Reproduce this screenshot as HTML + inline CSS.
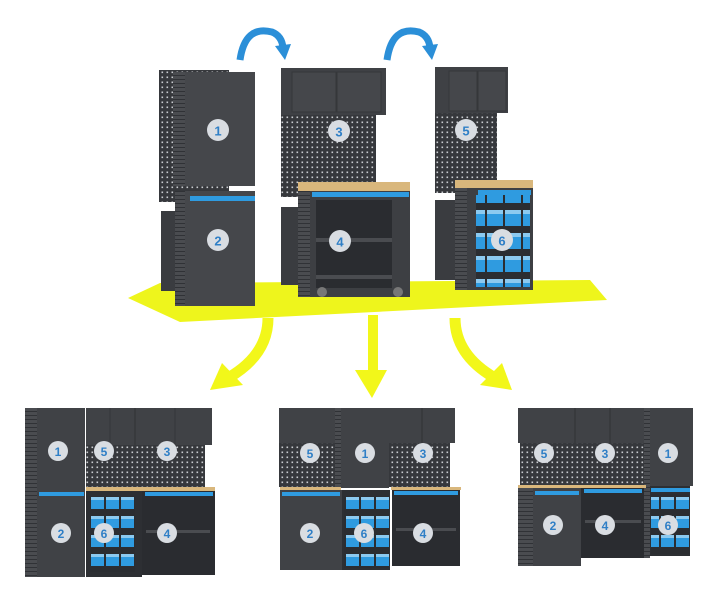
<!DOCTYPE html>
<html><head><meta charset="utf-8"><style>
html,body{margin:0;padding:0;background:#fff;}
svg{display:block}
text{font-family:"Liberation Sans",sans-serif;font-weight:bold;fill:#2f7fc6;text-anchor:middle;dominant-baseline:central}
</style></head><body>
<svg width="706" height="603" viewBox="0 0 706 603" xmlns="http://www.w3.org/2000/svg">
<defs>
<pattern id="peg" width="5" height="5" patternUnits="userSpaceOnUse">
<rect width="5" height="5" fill="#36383c"/><rect x="1.5" y="1.5" width="1.6" height="1.6" fill="#c9ccd0"/>
</pattern>
<pattern id="slat" width="6" height="4" patternUnits="userSpaceOnUse">
<rect width="6" height="4" fill="#4a4c50"/><rect x="0" y="3" width="6" height="1" fill="#303236"/>
</pattern>
<pattern id="bins" width="18" height="23" patternUnits="userSpaceOnUse">
<rect width="18" height="23" fill="#2b2d31"/><rect x="1" y="3" width="16" height="16" fill="#2f9be0"/><rect x="1" y="3" width="16" height="4" fill="#8ccaf0"/>
</pattern>
<pattern id="binsS" width="15" height="19" patternUnits="userSpaceOnUse">
<rect width="15" height="19" fill="#2b2d31"/><rect x="1" y="3" width="13" height="12" fill="#2f9be0"/><rect x="1" y="3" width="13" height="3" fill="#8ccaf0"/>
</pattern>
</defs>

<!-- blue arrows -->
<path d="M240 60 Q245 25 272 32 Q282 36 283 48" fill="none" stroke="#2b8fd8" stroke-width="7"/>
<polygon points="275,46 291,44 285,60" fill="#2b8fd8"/>
<path d="M387 60 Q392 25 419 32 Q429 36 430 48" fill="none" stroke="#2b8fd8" stroke-width="7"/>
<polygon points="422,46 438,44 432,60" fill="#2b8fd8"/>

<!-- floor -->
<polygon points="160,283 590,280 607,300 180,322 128,298" fill="#eef51c"/>

<!-- yellow arrows -->
<path d="M268 318 Q268 355 228 378" fill="none" stroke="#f2f71a" stroke-width="11"/>
<polygon points="210,390 222,363 243,385" fill="#f2f71a"/>
<rect x="368" y="315" width="10" height="60" fill="#f2f71a"/>
<polygon points="355,370 387,370 372,398" fill="#f2f71a"/>
<path d="M455 318 Q455 355 495 378" fill="none" stroke="#f2f71a" stroke-width="11"/>
<polygon points="512,390 502,363 480,385" fill="#f2f71a"/>

<!-- TOP LEFT -->
<rect x="159" y="70" width="70" height="132" fill="url(#peg)"/>
<rect x="161" y="211" width="14" height="80" fill="#3a3c40"/>
<rect x="173" y="72" width="82" height="114" fill="#45474b"/>
<rect x="173" y="72" width="12" height="114" fill="url(#slat)"/>
<rect x="175" y="191" width="80" height="115" fill="#45474b"/>
<rect x="175" y="191" width="10" height="115" fill="url(#slat)"/>
<rect x="190" y="196" width="65" height="5" fill="#2f9be0"/>
<circle cx="218" cy="130" r="11" fill="#d9dde2"/><text x="218" y="131" font-size="13">1</text>
<circle cx="218" cy="240" r="11" fill="#d9dde2"/><text x="218" y="241" font-size="13">2</text>

<!-- TOP MIDDLE -->
<rect x="281" y="68" width="105" height="47" fill="#3f4145"/>
<rect x="292" y="72" width="44" height="40" fill="#45474b" stroke="#35373a"/>
<rect x="337" y="72" width="44" height="40" fill="#45474b" stroke="#35373a"/>
<rect x="281" y="115" width="95" height="82" fill="url(#peg)"/>
<rect x="281" y="207" width="19" height="78" fill="#3a3c40"/>
<rect x="298" y="182" width="112" height="9" fill="#d9b77c"/>
<rect x="298" y="191" width="112" height="106" fill="#3d3f43"/>
<rect x="298" y="191" width="12" height="106" fill="url(#slat)"/>
<rect x="312" y="192" width="97" height="5" fill="#2f9be0"/>
<rect x="316" y="200" width="76" height="88" fill="#2a2c30"/>
<rect x="316" y="238" width="76" height="4" fill="#4a4c50"/>
<rect x="316" y="275" width="76" height="4" fill="#4a4c50"/>
<circle cx="322" cy="292" r="5" fill="#777"/><circle cx="398" cy="292" r="5" fill="#777"/>
<circle cx="339" cy="131" r="11" fill="#d9dde2"/><text x="339" y="132" font-size="13">3</text>
<circle cx="340" cy="241" r="11" fill="#d9dde2"/><text x="340" y="242" font-size="13">4</text>

<!-- TOP RIGHT -->
<rect x="435" y="67" width="73" height="46" fill="#3f4145"/>
<rect x="449" y="71" width="28" height="40" fill="#45474b" stroke="#35373a"/>
<rect x="478" y="71" width="28" height="40" fill="#45474b" stroke="#35373a"/>
<rect x="435" y="113" width="62" height="80" fill="url(#peg)"/>
<rect x="435" y="200" width="20" height="80" fill="#3a3c40"/>
<rect x="455" y="180" width="78" height="8" fill="#d9b77c"/>
<rect x="455" y="188" width="78" height="102" fill="#3d3f43"/>
<rect x="455" y="188" width="12" height="102" fill="url(#slat)"/>
<rect x="478" y="190" width="53" height="5" fill="#2f9be0"/>
<rect x="476" y="195" width="54" height="92" fill="url(#bins)"/>
<circle cx="466" cy="130" r="11" fill="#d9dde2"/><text x="466" y="131" font-size="13">5</text>
<circle cx="502" cy="240" r="11" fill="#d9dde2"/><text x="502" y="241" font-size="13">6</text>

<!-- BOTTOM A -->
<rect x="25" y="408" width="12" height="169" fill="url(#slat)"/>
<rect x="37" y="408" width="48" height="80" fill="#404246"/>
<rect x="86" y="408" width="126" height="37" fill="#404246"/>
<line x1="135" y1="408" x2="135" y2="445" stroke="#2f3134"/><line x1="110" y1="408" x2="110" y2="445" stroke="#35373a"/><line x1="175" y1="408" x2="175" y2="445" stroke="#35373a"/>
<rect x="86" y="445" width="119" height="42" fill="url(#peg)"/>
<rect x="86" y="487" width="129" height="4" fill="#d9b77c"/>
<rect x="37" y="488" width="48" height="89" fill="#404246"/>
<rect x="39" y="492" width="45" height="4" fill="#2f9be0"/>
<rect x="86" y="491" width="56" height="86" fill="#2d2f33"/>
<rect x="90" y="496" width="45" height="76" fill="url(#binsS)"/>
<rect x="142" y="491" width="73" height="84" fill="#2a2c30"/>
<rect x="145" y="492" width="68" height="4" fill="#2f9be0"/>
<rect x="146" y="530" width="64" height="3" fill="#4a4c50"/>
<circle cx="58" cy="451" r="10" fill="#d9dde2"/><text x="58" y="452" font-size="12">1</text>
<circle cx="104" cy="451" r="10" fill="#d9dde2"/><text x="104" y="452" font-size="12">5</text>
<circle cx="167" cy="451" r="10" fill="#d9dde2"/><text x="167" y="452" font-size="12">3</text>
<circle cx="61" cy="533" r="10" fill="#d9dde2"/><text x="61" y="534" font-size="12">2</text>
<circle cx="104" cy="533" r="10" fill="#d9dde2"/><text x="104" y="534" font-size="12">6</text>
<circle cx="167" cy="533" r="10" fill="#d9dde2"/><text x="167" y="534" font-size="12">4</text>

<!-- BOTTOM B -->
<rect x="279" y="408" width="56" height="35" fill="#404246"/>
<rect x="279" y="443" width="56" height="44" fill="url(#peg)"/>
<rect x="335" y="408" width="6" height="160" fill="url(#slat)"/>
<rect x="341" y="408" width="48" height="80" fill="#404246"/>
<rect x="389" y="408" width="66" height="35" fill="#404246"/>
<line x1="422" y1="408" x2="422" y2="443" stroke="#2f3134"/>
<rect x="389" y="443" width="61" height="44" fill="url(#peg)"/>
<rect x="280" y="487" width="61" height="3" fill="#d9b77c"/>
<rect x="391" y="487" width="70" height="3" fill="#d9b77c"/>
<rect x="280" y="490" width="62" height="80" fill="#404246"/>
<rect x="282" y="492" width="58" height="4" fill="#2f9be0"/>
<rect x="342" y="490" width="48" height="80" fill="#2d2f33"/>
<rect x="344" y="496" width="45" height="72" fill="url(#binsS)"/>
<rect x="392" y="490" width="68" height="76" fill="#2a2c30"/>
<rect x="394" y="491" width="64" height="4" fill="#2f9be0"/>
<rect x="396" y="528" width="60" height="3" fill="#4a4c50"/>
<circle cx="310" cy="453" r="10" fill="#d9dde2"/><text x="310" y="454" font-size="12">5</text>
<circle cx="365" cy="453" r="10" fill="#d9dde2"/><text x="365" y="454" font-size="12">1</text>
<circle cx="423" cy="453" r="10" fill="#d9dde2"/><text x="423" y="454" font-size="12">3</text>
<circle cx="310" cy="533" r="10" fill="#d9dde2"/><text x="310" y="534" font-size="12">2</text>
<circle cx="364" cy="533" r="10" fill="#d9dde2"/><text x="364" y="534" font-size="12">6</text>
<circle cx="423" cy="533" r="10" fill="#d9dde2"/><text x="423" y="534" font-size="12">4</text>

<!-- BOTTOM C -->
<rect x="518" y="408" width="126" height="35" fill="#404246"/>
<line x1="575" y1="408" x2="575" y2="443" stroke="#2f3134"/><line x1="610" y1="408" x2="610" y2="443" stroke="#2f3134"/>
<rect x="520" y="443" width="126" height="42" fill="url(#peg)"/>
<rect x="644" y="408" width="6" height="150" fill="url(#slat)"/>
<rect x="650" y="408" width="43" height="78" fill="#404246"/>
<rect x="518" y="485" width="128" height="3" fill="#d9b77c"/>
<rect x="518" y="488" width="15" height="78" fill="url(#slat)"/>
<rect x="533" y="488" width="48" height="78" fill="#404246"/>
<rect x="535" y="491" width="44" height="4" fill="#2f9be0"/>
<rect x="581" y="488" width="63" height="70" fill="#2a2c30"/>
<rect x="584" y="489" width="58" height="4" fill="#2f9be0"/>
<rect x="585" y="520" width="56" height="3" fill="#4a4c50"/>
<rect x="650" y="486" width="43" height="70" fill="#2d2f33"/>
<rect x="651" y="488" width="40" height="4" fill="#2f9be0"/>
<rect x="651" y="494" width="45" height="60" fill="url(#binsS)"/>
<rect x="690" y="486" width="6" height="70" fill="#fff"/>
<circle cx="544" cy="453" r="10" fill="#d9dde2"/><text x="544" y="454" font-size="12">5</text>
<circle cx="605" cy="453" r="10" fill="#d9dde2"/><text x="605" y="454" font-size="12">3</text>
<circle cx="668" cy="453" r="10" fill="#d9dde2"/><text x="668" y="454" font-size="12">1</text>
<circle cx="553" cy="525" r="10" fill="#d9dde2"/><text x="553" y="526" font-size="12">2</text>
<circle cx="605" cy="525" r="10" fill="#d9dde2"/><text x="605" y="526" font-size="12">4</text>
<circle cx="668" cy="525" r="10" fill="#d9dde2"/><text x="668" y="526" font-size="12">6</text>
</svg>
</body></html>
